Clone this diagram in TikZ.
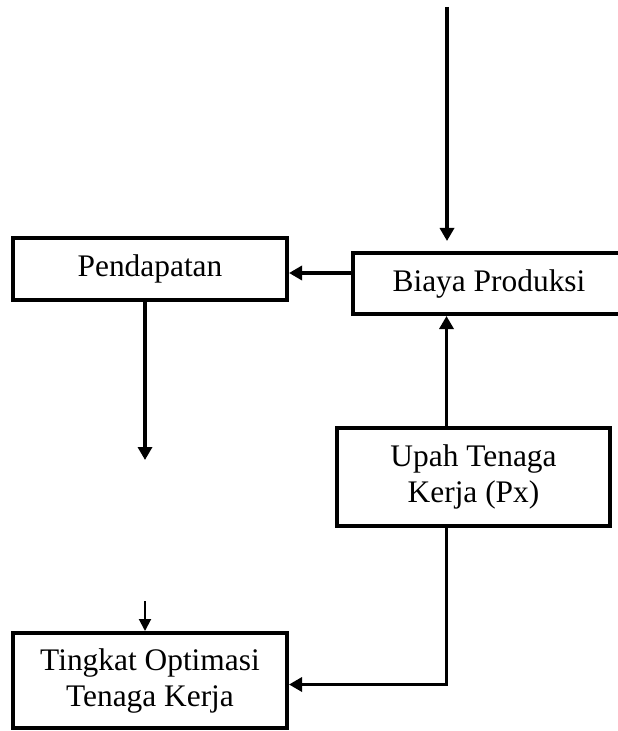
\documentclass[tikz,border=0pt]{standalone}
\usepackage{fontspec}
\setmainfont{Liberation Serif}
\usetikzlibrary{arrows.meta}

\tikzset{
    kotak/.style={draw, line width=2pt, minimum width=137pt, align=center,
        font=\fontsize{15.7}{18}\selectfont, inner sep=0pt},
    panah/.style={line width=1.8pt, -{Triangle[length=6.5pt,width=7pt]}}
}

\begin{document}
\begin{tikzpicture}[x=0.5pt,y=-0.5pt]
    \useasboundingbox (0,0) rectangle (617,731);

    % kotak-kotak
    \node[kotak, minimum height=31pt] (pend) at (150,269) {Pendapatan};
    \node[kotak, minimum height=30.5pt, minimum width=136pt] (biaya) at (489,283.5) {Biaya Produksi};
    \node[kotak, minimum height=49pt, minimum width=136.5pt] (upah) at (473.5,477) {Upah Tenaga\\Kerja (Px)};
    \node[kotak, minimum height=47.5pt] (tingkat) at (150,680.5) {Tingkat Optimasi\\Tenaga Kerja};

    % ujung bebas
    \coordinate (masuk) at (447,7);
    \coordinate (keluar) at (145,460);
    \coordinate (atas) at (145,601);

    % panah
    \draw[panah, shorten >=5pt] (masuk) -- (masuk |- biaya.north);
    \draw[panah] ([yshift=5.25pt]biaya.west) -- ([yshift=5.25pt]biaya.west -| pend.east);
    \draw[panah] ([xshift=-13.5pt]upah.north) -- ([xshift=-13.5pt]upah.north |- biaya.south);
    \draw[panah] ([xshift=-2.5pt]pend.south) -- (keluar);
    \draw[line width=1pt, -{Triangle[length=6pt,width=6pt]}] (atas) -- (atas |- tingkat.north);
    \draw[panah] ([xshift=-13.5pt]upah.south) |- ([yshift=-2pt]tingkat.east);
\end{tikzpicture}
\end{document}
